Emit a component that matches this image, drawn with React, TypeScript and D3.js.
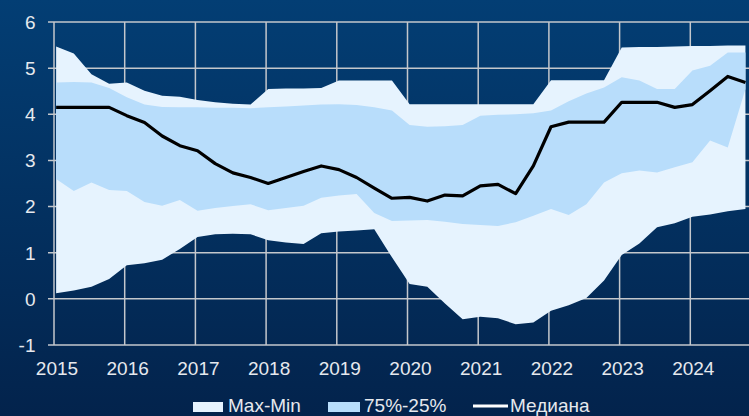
import React from "react";
import * as d3 from "d3";

const startYear = 2015;
const yearTicks = [2015, 2016, 2017, 2018, 2019, 2020, 2021, 2022, 2023, 2024];
const valueTicks = [-1, 0, 1, 2, 3, 4, 5, 6];

const maxSeries = [5.47, 5.32, 4.87, 4.66, 4.69, 4.51, 4.4, 4.38, 4.31, 4.26, 4.23, 4.21, 4.55, 4.56, 4.56, 4.57, 4.73, 4.73, 4.73, 4.73, 4.22, 4.22, 4.22, 4.22, 4.22, 4.22, 4.22, 4.22, 4.74, 4.74, 4.74, 4.74, 5.45, 5.46, 5.46, 5.47, 5.48, 5.48, 5.49, 5.49];
const q75Series = [4.69, 4.7, 4.69, 4.57, 4.37, 4.21, 4.16, 4.15, 4.15, 4.14, 4.14, 4.13, 4.15, 4.17, 4.19, 4.21, 4.22, 4.2, 4.15, 4.08, 3.77, 3.73, 3.74, 3.77, 3.97, 3.99, 4.0, 4.02, 4.08, 4.28, 4.45, 4.58, 4.8, 4.73, 4.55, 4.55, 4.95, 5.05, 5.34, 5.34];
const medianSeries = [4.15, 4.15, 4.15, 4.15, 3.97, 3.82, 3.53, 3.32, 3.21, 2.93, 2.73, 2.63, 2.5, 2.63, 2.76, 2.88, 2.8, 2.63, 2.4, 2.18, 2.2, 2.12, 2.25, 2.23, 2.45, 2.48, 2.28, 2.88, 3.73, 3.83, 3.83, 3.83, 4.26, 4.26, 4.26, 4.15, 4.21, 4.51, 4.82, 4.69];
const q25Series = [2.6, 2.34, 2.52, 2.36, 2.34, 2.1, 2.02, 2.14, 1.91, 1.97, 2.01, 2.05, 1.92, 1.97, 2.02, 2.19, 2.24, 2.27, 1.86, 1.69, 1.7, 1.71, 1.67, 1.62, 1.6, 1.58, 1.66, 1.8, 1.95, 1.82, 2.05, 2.52, 2.72, 2.78, 2.74, 2.85, 2.96, 3.43, 3.28, 4.55];
const minSeries = [0.12, 0.18, 0.26, 0.43, 0.73, 0.77, 0.85, 1.08, 1.34, 1.4, 1.41, 1.4, 1.27, 1.22, 1.19, 1.42, 1.46, 1.48, 1.51, 0.9, 0.32, 0.26, -0.1, -0.44, -0.39, -0.42, -0.55, -0.51, -0.26, -0.14, 0.02, 0.4, 0.95, 1.2, 1.55, 1.64, 1.78, 1.83, 1.9, 1.95];

const legendLabels = ["Max-Min", "75%-25%", "Медиана"];

const W = 749;
const H = 416;

export default function App() {
  const x = d3.scaleLinear().domain([2015, 2025]).range([54, 761]);
  const y = d3.scaleLinear().domain([-1, 6]).range([345, 22]);
  const times = medianSeries.map((_, i) => startYear + i * 0.25 + 0.03);

  const area = (lo: number[], hi: number[]) =>
    d3
      .area<number>()
      .x((d) => x(d))
      .y0((_, i) => y(lo[i]))
      .y1((_, i) => y(hi[i]))(times) || "";

  const line =
    d3
      .line<number>()
      .x((_, i) => x(times[i]))
      .y((d) => y(d))(medianSeries) || "";

  const font = "'Liberation Sans', Arial, sans-serif";
  const textFill = "#e6e9ee";
  const grid = "#c4c7cc";
  const light = "#e6f3fe";
  const mid = "#b8ddfb";

  return (
    <svg
      width={W}
      height={H}
      style={{ position: "fixed", left: 0, top: 0, display: "block" }}
    >
      <defs>
        <linearGradient id="bg" x1="0" y1="0" x2="0" y2="1">
          <stop offset="0" stopColor="#033e74" />
          <stop offset="1" stopColor="#03234c" />
        </linearGradient>
      </defs>
      <rect x={0} y={0} width={W} height={H} fill="url(#bg)" />

      {valueTicks.map((v) => (
        <line key={"h" + v} x1={48} x2={W} y1={y(v)} y2={y(v)} stroke={grid} strokeWidth={1.5} />
      ))}
      {yearTicks.map((t) => (
        <line key={"v" + t} x1={x(t)} x2={x(t)} y1={y(6)} y2={y(-1)} stroke={grid} strokeWidth={1.5} />
      ))}

      <path d={area(minSeries, maxSeries)} fill={light} />
      <path d={area(q25Series, q75Series)} fill={mid} />
      <path d={line} fill="none" stroke="#000" strokeWidth={3.2} strokeLinejoin="round" />

      {valueTicks.map((v) => (
        <text
          key={"yl" + v}
          x={35.5}
          y={y(v)}
          dy="0.36em"
          textAnchor="end"
          fontFamily={font}
          fontSize={19}
          fill={textFill}
        >
          {v}
        </text>
      ))}
      {yearTicks.map((t) => (
        <text
          key={"xl" + t}
          x={x(t) + 3}
          y={375}
          textAnchor="middle"
          fontFamily={font}
          fontSize={19}
          fill={textFill}
        >
          {t}
        </text>
      ))}

      <rect x={193} y={402} width={30} height={10} fill={light} />
      <text x={228} y={412} fontFamily={font} fontSize={19} fill={textFill}>
        {legendLabels[0]}
      </text>
      <rect x={328} y={402} width={32} height={10} fill={mid} />
      <text x={364} y={412} fontFamily={font} fontSize={19} fill={textFill}>
        {legendLabels[1]}
      </text>
      <line x1={473} x2={508} y1={406} y2={406} stroke="#fff" strokeWidth={3} />
      <text x={510} y={412} fontFamily={font} fontSize={19} fill={textFill}>
        {legendLabels[2]}
      </text>
    </svg>
  );
}
